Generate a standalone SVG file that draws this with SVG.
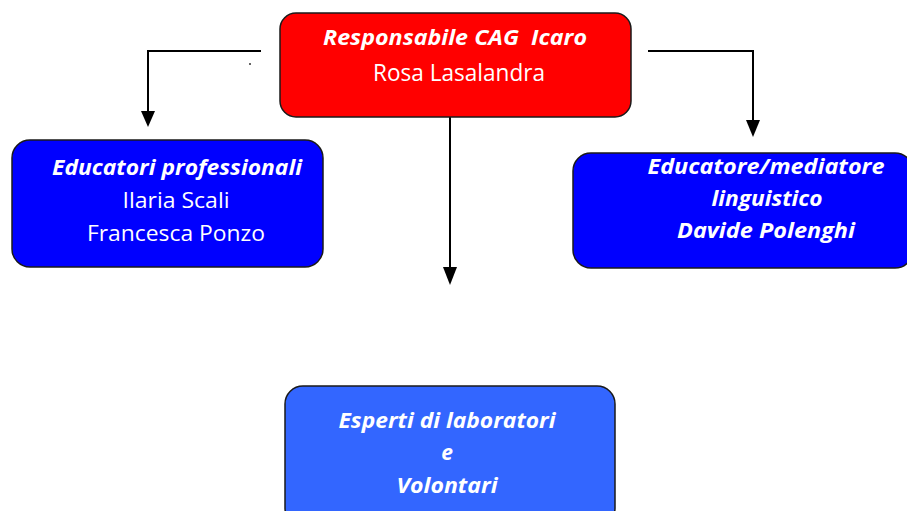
<svg xmlns="http://www.w3.org/2000/svg" width="907" height="511" viewBox="0 0 907 511">
<defs>
<style>
.box{stroke:#1a1a1a;stroke-width:1.5}
.t{font-family:"Open Sans","Noto Sans","Liberation Sans",sans-serif;fill:#fff;text-anchor:middle;white-space:pre}
.bi{font-weight:bold;font-style:italic}
.con{fill:none;stroke:#000;stroke-width:2}
.ah{fill:#000}
</style>
</defs>
<rect width="907" height="511" fill="#fff"/>
<g id="connectors">
<path class="con" d="M261,51 H148 V112"/>
<path class="ah" d="M141,111 L155,111 L148,127 Z"/>
<path class="con" d="M648,51 H753 V121"/>
<path class="ah" d="M746,120 L760,120 L753,137 Z"/>
<path class="con" d="M450,117 V268"/>
<path class="ah" d="M443,267 L457,267 L450,285 Z"/>
<circle cx="250" cy="64" r="1" fill="#333"/>
</g>
<g id="responsabile">
<rect class="box" x="280" y="13" width="351" height="104" rx="16" fill="#ff0000"/>
<text class="t bi" x="455" y="45" font-size="21.5" textLength="264" lengthAdjust="spacingAndGlyphs">Responsabile CAG  Icaro</text>
<text class="t" x="459" y="81" font-size="23" textLength="172" lengthAdjust="spacingAndGlyphs">Rosa Lasalandra</text>
</g>
<g id="educatori">
<rect class="box" x="12" y="140" width="311" height="127" rx="18" fill="#0000ff"/>
<text class="t bi" x="177" y="175" font-size="22" textLength="250" lengthAdjust="spacingAndGlyphs">Educatori professionali</text>
<text class="t" x="176" y="208" font-size="22" textLength="107" lengthAdjust="spacingAndGlyphs">Ilaria Scali</text>
<text class="t" x="176" y="241" font-size="22" textLength="178" lengthAdjust="spacingAndGlyphs">Francesca Ponzo</text>
</g>
<g id="mediatore">
<rect class="box" x="573" y="153" width="340" height="115" rx="18" fill="#0000ff"/>
<text class="t bi" x="766" y="174" font-size="21" textLength="237" lengthAdjust="spacingAndGlyphs">Educatore/mediatore</text>
<text class="t bi" x="767" y="206" font-size="21" textLength="111" lengthAdjust="spacingAndGlyphs">linguistico</text>
<text class="t bi" x="766" y="238" font-size="21" textLength="178" lengthAdjust="spacingAndGlyphs">Davide Polenghi</text>
</g>
<g id="esperti">
<rect class="box" x="285" y="386" width="330" height="140" rx="18" fill="#3366ff"/>
<text class="t bi" x="447" y="428" font-size="21" textLength="217" lengthAdjust="spacingAndGlyphs">Esperti di laboratori</text>
<text class="t bi" x="447" y="460" font-size="21">e</text>
<text class="t bi" x="447" y="493" font-size="21" textLength="101" lengthAdjust="spacingAndGlyphs">Volontari</text>
</g>
</svg>
